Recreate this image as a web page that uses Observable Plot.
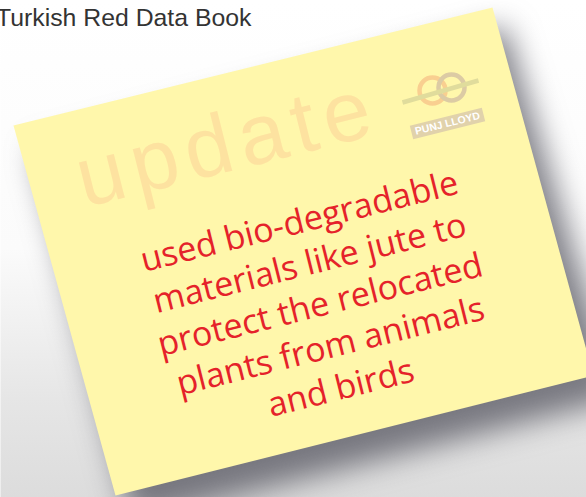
<!DOCTYPE html>
<html>
<head>
<meta charset="utf-8">
<script src="https://cdn.jsdelivr.net/npm/d3@7"></script>
<script src="https://cdn.jsdelivr.net/npm/@observablehq/plot@0.6"></script>
<style>
  html, body { margin: 0; padding: 0; background: #fff; overflow: hidden; }
  svg { display: block; }
</style>
</head>
<body>
<div id="chart"></div>
<script>
// ---- data ----
const titleText = ["Turkish Red Data Book"];
const stampText = ["update"];
const messageLines = [
  "used bio-degradable",
  "materials like jute to",
  "protect the relocated",
  "plants from animals",
  "and birds"
];
const logoText = ["PUNJ LLOYD"];
const noteCorners = [
  {x: 13, y: 125}, {x: 492, y: 7}, {x: 593, y: 375}, {x: 115, y: 495}, {x: 13, y: 125}
];
const shadowCorners = [
  {x: 34, y: 150}, {x: 505, y: 26}, {x: 618, y: 398}, {x: 132, y: 522}, {x: 34, y: 150}
];
const rings = [
  {x: 432, y: 90, color: "#f9cf90"},
  {x: 451, y: 87, color: "#dccba4"}
];

const W = 586, H = 497;

const defs = () => {
  const g = d3.create("svg:defs");
  const bg = g.append("linearGradient").attr("id", "bg")
    .attr("x1", 0).attr("y1", 0).attr("x2", 0).attr("y2", 1);
  bg.append("stop").attr("offset", "0%").attr("stop-color", "#ffffff");
  bg.append("stop").attr("offset", "50%").attr("stop-color", "#fbfbfb");
  bg.append("stop").attr("offset", "80%").attr("stop-color", "#e6e6e6");
  bg.append("stop").attr("offset", "100%").attr("stop-color", "#dcdcdc");
  return g.node();
};

const chart = Plot.plot({
  width: W,
  height: H,
  margin: 0,
  x: {domain: [0, W], axis: null},
  y: {domain: [H, 0], axis: null},
  style: {background: "transparent"},
  marks: [
    defs,
    Plot.frame({fill: "url(#bg)", stroke: "none"}),
    Plot.line(shadowCorners, {x: "x", y: "y", fill: "#5c5c66", fillOpacity: 0.8, stroke: "none", ariaDescription: "shadow"}),
    Plot.line(noteCorners, {x: "x", y: "y", fill: "#fff7ab", stroke: "none", curve: "linear"}),
    Plot.text(titleText, {x: -4.5, y: 25, text: d => d, textAnchor: "start", lineAnchor: "bottom",
      fontSize: 24.8, fontFamily: "Liberation Sans", fill: "#333333", ariaDescription: "title"}),
    Plot.text(stampText, {x: 84, y: 207, text: d => d, rotate: -14, textAnchor: "start", lineAnchor: "bottom",
      fontSize: 85, fontFamily: "Liberation Sans", fill: "#fde2a0", ariaDescription: "stamp"}),
    Plot.link([0], {x1: 411, y1: 132, x2: 483, y2: 114, stroke: "#e1d2ab", strokeWidth: 14, strokeLinecap: "butt"}),
    Plot.text(logoText, {x: 447, y: 123, text: d => d, rotate: -14, lineAnchor: "middle",
      fontSize: 10.5, fontWeight: "bold", fontFamily: "Liberation Sans", fill: "#ffffff"}),
    Plot.dot(rings, {x: "x", y: "y", r: 13, stroke: "color", strokeWidth: 4.5, fill: "none"}),
    Plot.link([0], {x1: 402, y1: 102, x2: 478, y2: 80, stroke: "#e0dc9c", strokeWidth: 4.5, strokeLinecap: "butt"}),
    Plot.text([messageLines.join("\n")], {x: 319, y: 302, text: d => d, rotate: -14,
      textAnchor: "middle", lineAnchor: "middle", lineHeight: 1.26,
      fontSize: 34, fontFamily: "Open Sans", fill: "#e5222a"})
  ]
});

const sel = d3.select(chart);
sel.selectAll('g[aria-description="shadow"]').style("filter", "blur(15px)");
sel.selectAll('g[aria-description="stamp"] text').attr("letter-spacing", 8);
document.getElementById("chart").appendChild(chart);
</script>
</body>
</html>
